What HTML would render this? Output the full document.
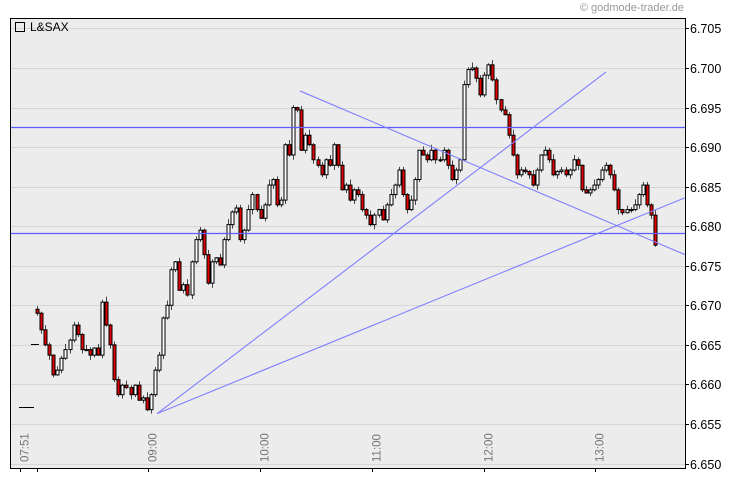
<!DOCTYPE html>
<html><head><meta charset="utf-8"><style>
html,body{margin:0;padding:0;background:#fff;width:730px;height:481px;overflow:hidden}
svg text{font-family:"Liberation Sans",Arial,sans-serif}
</style></head><body>
<svg id="chart" width="730" height="481" xmlns="http://www.w3.org/2000/svg">
<rect x="10" y="18" width="675" height="450" fill="#ececec"/>
<g id="grid"></g>
<g id="marks"></g>
<g id="overlay"></g>
<rect x="10.5" y="18.5" width="675" height="450" fill="none" stroke="#000" stroke-width="1"/>
<g id="axes"></g>
<rect x="15.5" y="22.5" width="9" height="9" fill="none" stroke="#000"/>
<text x="30" y="31" font-size="12" fill="#000">L&amp;SAX</text>
<text x="684" y="11" font-size="11" fill="#999" text-anchor="end">© godmode-trader.de</text>
</svg>
<script>
const closes=[6.6690,6.6669,6.6650,6.6637,6.6612,6.6618,6.6633,6.6644,6.6656,6.6675,6.6663,6.6644,6.6644,6.6637,6.6646,6.6637,6.6704,6.6675,6.6650,6.6606,6.6587,6.6599,6.6596,6.6587,6.6599,6.6580,6.6583,6.6568,6.6587,6.6618,6.6637,6.6684,6.6700,6.6745,6.6755,6.6719,6.6726,6.6713,6.6755,6.6783,6.6795,6.6764,6.6728,6.6755,6.6760,6.6751,6.6783,6.6802,6.6818,6.6823,6.6783,6.6795,6.6821,6.6840,6.6821,6.6810,6.6827,6.6852,6.6859,6.6827,6.6833,6.6903,6.6890,6.6950,6.6947,6.6896,6.6915,6.6903,6.6884,6.6877,6.6865,6.6884,6.6877,6.6903,6.6877,6.6846,6.6852,6.6833,6.6846,6.6840,6.6821,6.6814,6.6802,6.6814,6.6821,6.6808,6.6827,6.6840,6.6852,6.6871,6.6840,6.6821,6.6833,6.6859,6.6896,6.6890,6.6884,6.6896,6.6884,6.6884,6.6896,6.6877,6.6859,6.6871,6.6884,6.6979,6.6998,6.7000,6.6987,6.6966,6.6991,6.7004,6.6985,6.6960,6.6947,6.6941,6.6915,6.6890,6.6865,6.6871,6.6869,6.6865,6.6852,6.6871,6.6890,6.6896,6.6884,6.6865,6.6869,6.6871,6.6865,6.6871,6.6884,6.6877,6.6846,6.6842,6.6846,6.6852,6.6859,6.6871,6.6877,6.6865,6.6846,6.6821,6.6817,6.6821,6.6821,6.6827,6.6840,6.6852,6.6827,6.6814,6.6776];
const firstOpen=6.6695;
const wickUp=[0.0004,0.0002,0.0006,0.0003,0.0001,0.0005,0.0003,0.0007,0.0002,0.0004];
const wickDown=[0.0003,0.0005,0.0002,0.0006,0.0003,0.0001,0.0004,0.0002,0.0005,0.0003];
const yTicks=[6.650,6.655,6.660,6.665,6.670,6.675,6.680,6.685,6.690,6.695,6.700,6.705];
const xTickLabels=["07:51","09:00","10:00","11:00","12:00","13:00"];
const xTickMinutes=[0,69,129,189,249,309];
const hLines=[6.6925,6.6792];
const trendLines=[[73.6,6.6563,314.8,6.6995],[73.6,6.6563,357.2,6.6836],[150.4,6.6971,357.2,6.6764]];

const NS="http://www.w3.org/2000/svg";
const yOf=p=>463.5-(p-6.650)/0.005*39.55;
const xOfMin=m=>20+m*1.8617;
const firstX=37,lastX=655;
const xOfIdx=i=>firstX+i*(lastX-firstX)/(closes.length-1);
function mk(t,a,parent){const e=document.createElementNS(NS,t);for(const k in a)e.setAttribute(k,a[k]);document.getElementById(parent).appendChild(e);return e;}

yTicks.forEach((v,i)=>{
  const y=Math.round(yOf(v))+0.5;
  const g=mk('line',{x1:11,x2:685,y1:y,y2:y,stroke:'#d6d6d6','stroke-width':1},'grid');
  
  
  const tk=mk('line',{x1:685,x2:689,y1:y,y2:y,stroke:'#000'},'axes');
  
  
  const t=mk('text',{x:690,y:y+4.5,'font-size':12.5,fill:'#000'},'axes');
  t.textContent=v.toFixed(3);
  
  
});
xTickLabels.forEach((lab,i)=>{
  const x=Math.round(xOfMin(xTickMinutes[i]))+0.5;
  const tk=mk('line',{x1:x,x2:x,y1:468,y2:472,stroke:'#000'},'axes');
  
  
  const t=mk('text',{x:0,y:0,'font-size':11.5,fill:'#777',transform:`translate(${x+8},462) rotate(-90)`},'axes');
  t.textContent=lab;
  
  
});
const t37=mk('line',{x1:37.5,x2:37.5,y1:468,y2:472,stroke:'#000'},'axes');



const d1=mk('line',{x1:31,x2:39,y1:344.5,y2:344.5,stroke:'#000'},'marks');


const d2=mk('line',{x1:19,x2:34,y1:407.5,y2:407.5,stroke:'#000'},'marks');



closes.forEach((c,i)=>{
  const o=i===0?firstOpen:closes[i-1];
  const hi=Math.max(o,c)+wickUp[i%wickUp.length];
  const lo=Math.min(o,c)-wickDown[i%wickDown.length];
  const x=Math.round(xOfIdx(i))+0.5;
  const w=mk('line',{x1:x,x2:x,y1:yOf(hi),y2:yOf(lo),stroke:'#444'},'marks');
  
  
  const top=Math.min(yOf(o),yOf(c)),h=Math.max(1,Math.abs(yOf(o)-yOf(c)));
  const b=mk('rect',{x:x-1.5,y:top,width:3,height:h,fill:c<o?'#e00000':'#fff',stroke:'#000','stroke-width':1},'marks');
  
  
});

hLines.forEach(p=>{
  const y=Math.round(yOf(p))+0.5;
  const l=mk('line',{x1:11,x2:685,y1:y,y2:y,stroke:'#5c5cff','stroke-width':1.3},'overlay');
  
  
});
trendLines.forEach(t=>{
  const l=mk('line',{x1:xOfMin(t[0]),y1:yOf(t[1]),x2:xOfMin(t[2]),y2:yOf(t[3]),stroke:'#7f7fff','stroke-width':1.1},'overlay');
  
  
});
</script>
</body></html>
